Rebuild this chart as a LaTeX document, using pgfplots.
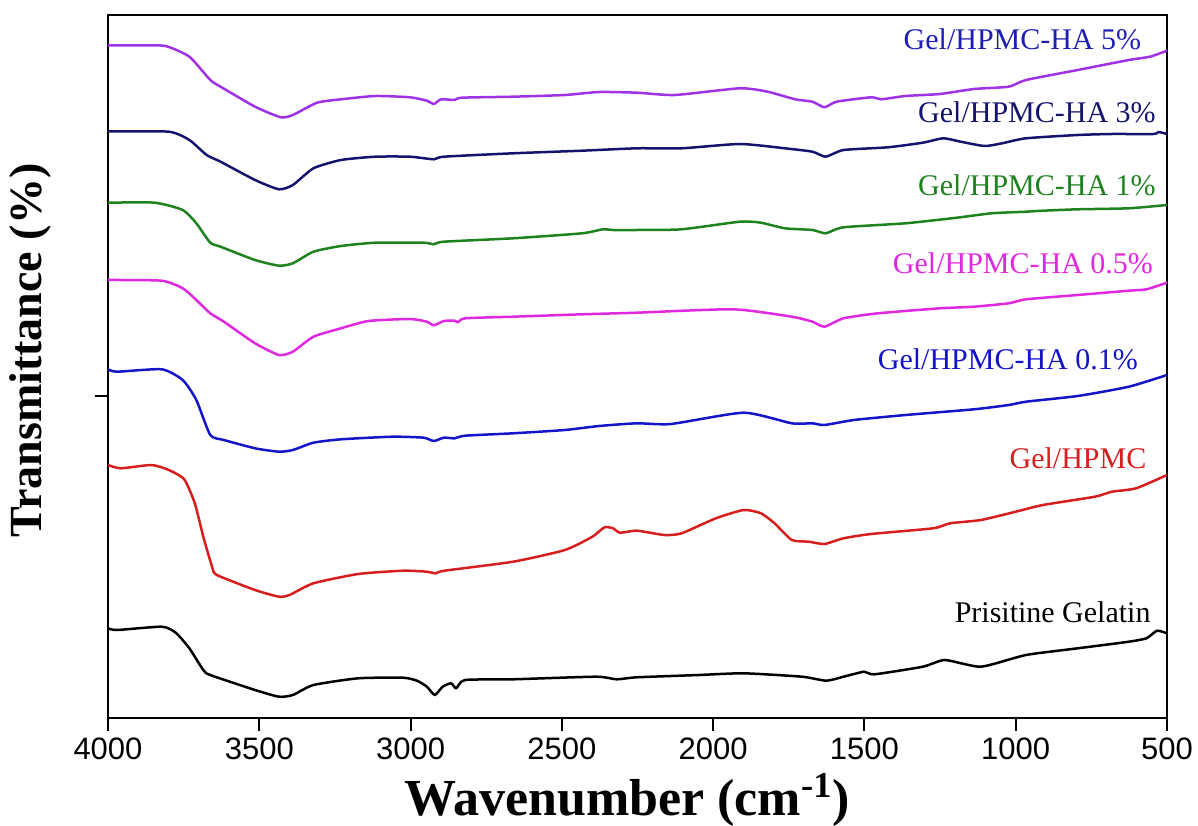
\documentclass[border=0pt]{standalone}
\usepackage{fontspec}
\setmainfont{Liberation Serif}
\setsansfont{Liberation Sans}
\usepackage{pgfplots}
\pgfplotsset{compat=1.18}

\definecolor{cfive}{RGB}{160,50,230}
\definecolor{cthree}{RGB}{20,20,110}
\definecolor{cone}{RGB}{30,130,30}
\definecolor{chalf}{RGB}{225,40,225}
\definecolor{ctenth}{RGB}{20,20,200}
\definecolor{cgh}{RGB}{215,30,30}
\definecolor{lfive}{RGB}{30,30,180}

\begin{document}
\begin{tikzpicture}
\path[use as bounding box] (-54pt,-53.5pt) rectangle (545pt,359pt);
\begin{axis}[
  scale only axis, width=529.5pt, height=351.5pt,
  x dir=reverse, xmin=500, xmax=4000, ymin=0, ymax=703,
  xtick={500,1000,...,4000}, ytick={322}, yticklabels={},
  xtick pos=lower, ytick pos=left, tick align=outside,
  major tick length=6.5pt,
  axis line style={line width=1.3pt},
  every tick/.style={line width=1pt, black},
  tick label style={font=\sffamily\fontsize{15.5}{18}\selectfont},
  /pgf/number format/assume math mode=true,
  /pgf/number format/set thousands separator={},
  xlabel={\textbf{Wavenumber (cm\textsuperscript{-1})}},
  ylabel={\textbf{Transmittance (\%)}},
  xlabel style={font=\fontsize{26}{30}\selectfont, at={(axis description cs:0.49,-0.1166)}, anchor=center},
  ylabel style={font=\fontsize{23}{26}\selectfont, at={(axis description cs:-0.0736,0.523)}, anchor=center},
  every axis plot/.append style={line width=1.25pt, line join=round, no markers, smooth, tension=0.35},
]

% Gel/HPMC-HA 5%
\addplot[cfive] coordinates {
(4000,672.5) (3900,672.5) (3810,672) (3731,661.3) (3662,638) (3628,631.3) (3514,611.3)
(3429,600.7) (3389,603) (3309,615.3) (3230,618.7) (3116,622) (3002,620.7) (2946,617.3)
(2923,614) (2899,618.7) (2854,618) (2831,620.3) (2661,621.3) (2490,623) (2377,626)
(2252,625.3) (2127,623) (1911,629.7) (1820,626.3) (1729,618.7) (1672,616.3) (1632,610.7)
(1592,616.3) (1478,620.7) (1445,618.7) (1364,622) (1250,624) (1138,629) (1023,631.3)
(966,638) (795,648) (626,658) (556,661.3) (500,667.3)};

% Gel/HPMC-HA 3%
\addplot[cthree] coordinates {
(4000,586.5) (3799,586.3) (3731,578) (3674,563) (3628,556.3) (3514,538) (3435,528.7)
(3389,533) (3321,549.7) (3230,558) (3116,561.3) (3002,561.3) (2923,558.7) (2890,561.3)
(2661,564.7) (2433,567.3) (2252,569.7) (2104,569.7) (1911,574) (1763,569.7) (1672,566.3)
(1628,561.3) (1569,568) (1422,570.7) (1307,575.3) (1239,579.7) (1182,576.3) (1103,572)
(1045,574.7) (966,579.7) (795,583) (682,584) (545,584) (528,586) (500,584)};

% Gel/HPMC-HA 1%
\addplot[cone] coordinates {
(4000,515.3) (3845,515.3) (3753,508) (3708,494.7) (3662,475.3) (3628,471.3) (3514,458)
(3435,452.3) (3389,454.7) (3321,466.3) (3230,472) (3116,475.3) (2957,475.3) (2923,473.7)
(2890,476.3) (2661,479.7) (2433,484.7) (2365,488.7) (2331,488) (2252,488) (2104,488.7)
(1911,496.3) (1842,495.3) (1763,489.7) (1672,488) (1628,484.7) (1569,490.7) (1364,494.7)
(1194,500.3) (1080,504.7) (966,506.3) (910,507.3) (795,508.7) (626,509.7) (500,513)};

% Gel/HPMC-HA 0.5%
\addplot[chalf] coordinates {
(4000,438) (3822,437.3) (3753,429.7) (3708,418) (3662,404.7) (3617,396.3) (3514,374.7)
(3435,363) (3389,366.3) (3321,381.3) (3230,389.7) (3139,397) (3002,399) (2946,396.3)
(2923,392.7) (2890,397) (2854,397.3) (2843,395.7) (2820,399.7) (2661,401.3) (2433,403.7)
(2252,405.3) (1934,408.7) (1740,401.3) (1672,396.3) (1632,391.3) (1569,399.7) (1455,404.7)
(1250,409.7) (1138,411.3) (1023,414.7) (966,418.7) (795,423) (626,427.3) (568,428.7) (500,435.3)};

% Gel/HPMC-HA 0.1%
\addplot[ctenth] coordinates {
(4000,348.7) (3970,346.3) (3822,348.7) (3753,338) (3708,318) (3662,283) (3617,278)
(3514,269.7) (3435,266.3) (3389,268) (3321,275.3) (3230,278.7) (3059,281.3) (2957,280.3)
(2923,277) (2890,280.3) (2854,279.7) (2820,282.3) (2661,284.7) (2490,288) (2377,292)
(2252,294.7) (2139,294) (1899,305.3) (1740,294.7) (1672,294.7) (1632,293) (1535,298)
(1364,303) (1138,308.7) (1023,313) (966,316.3) (795,322) (626,331.3) (500,343)};

% Gel/HPMC
\addplot[cgh] coordinates {
(4000,253) (3958,249.7) (3856,253) (3799,248) (3748,238.7) (3713,214.7) (3685,181.3)
(3656,151.3) (3640,143) (3514,128) (3435,121.3) (3400,123) (3321,134.7) (3173,144)
(3025,147.3) (2946,146.3) (2917,144.7) (2888,147.3) (2661,156.3) (2490,168) (2399,181.3)
(2359,190.7) (2331,189.7) (2308,185.3) (2252,187.3) (2161,183) (2104,184.7) (1991,199.7)
(1899,208) (1842,204.7) (1797,194.7) (1740,178) (1683,176.3) (1632,174) (1569,179.7)
(1478,184) (1273,189.7) (1217,194.7) (1115,198) (1000,206.3) (910,213) (738,221.3)
(682,226.3) (602,229.7) (500,243)};

% Pristine gelatin
\addplot[black] coordinates {
(4000,89.7) (3970,88) (3822,91.3) (3776,85.3) (3731,69.7) (3685,48) (3662,43) (3514,28)
(3435,21.3) (3389,23) (3321,33) (3173,39.7) (3025,40.3) (2979,37.3) (2946,31.3) (2920,23)
(2894,31.3) (2866,34.7) (2849,29.7) (2820,38) (2661,38.7) (2387,41.3) (2319,38.7)
(2252,40.7) (2047,43) (1899,44.7) (1706,41.3) (1626,37.3) (1569,41.3) (1501,46.3)
(1467,43.7) (1307,51.3) (1234,58) (1115,51.3) (966,63) (795,69.7) (626,76.3) (568,79.7)
(533,87.3) (500,84.7)};

\begin{scope}[every node/.style={anchor=base east, inner sep=0pt, font=\fontsize{15}{18}\selectfont}]
\node[text=lfive] at (axis cs:584,668) {Gel/HPMC-HA 5\%};
\node[text=cthree] at (axis cs:536,595.3) {Gel/HPMC-HA 3\%};
\node[text=cone] at (axis cs:536,522) {Gel/HPMC-HA 1\%};
\node[text=chalf] at (axis cs:545,444) {Gel/HPMC-HA 0.5\%};
\node[text=ctenth] at (axis cs:595,348) {Gel/HPMC-HA 0.1\%};
\node[text=cgh] at (axis cs:567,249.7) {Gel/HPMC};
\node[text=black] at (axis cs:553,95.3) {Prisitine Gelatin};
\end{scope}
\end{axis}
\end{tikzpicture}
\end{document}
